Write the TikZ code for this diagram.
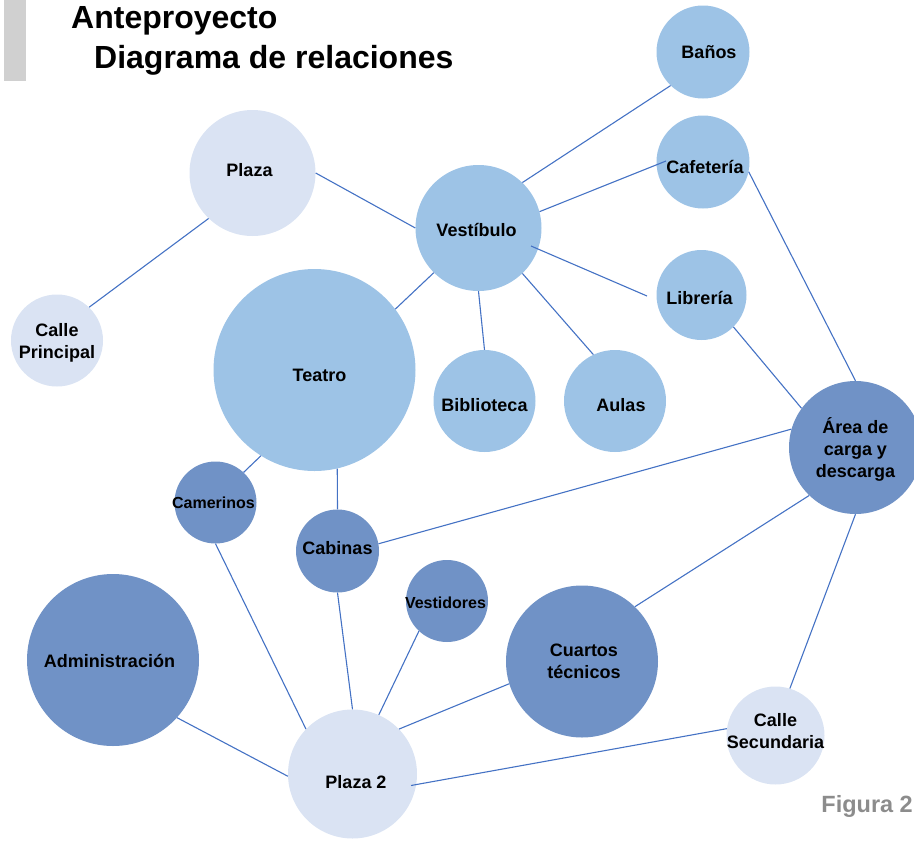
\documentclass[tikz,border=0pt]{standalone}
\usepackage{fontspec}
\setmainfont{Liberation Sans}
\usetikzlibrary{calc}
\definecolor{lightb}{HTML}{DAE3F3}
\definecolor{midb}{HTML}{9DC3E6}
\definecolor{darkb}{HTML}{7092C6}
\definecolor{edgeb}{HTML}{4472C4}
\definecolor{barg}{HTML}{D0D0D0}
\definecolor{figg}{HTML}{8C8C8C}
\tikzset{
  bub/.style={circle, inner sep=0pt},
  lbl/.style={align=center, inner sep=0pt, font=\fontsize{18}{22}\selectfont\bfseries},
  lbls/.style={lbl, font=\fontsize{16}{19}\selectfont\bfseries},
  lb/.style={fill=lightb},
  mb/.style={fill=midb},
  db/.style={fill=darkb},
  conn/.style={draw=edgeb, line width=1.1pt},
  ttl/.style={anchor=base west, inner sep=0pt, font=\fontsize{32}{36}\selectfont\bfseries}
}
\begin{document}
\begin{tikzpicture}[x=1pt,y=-1pt]
\useasboundingbox (0,0) rectangle (914,844);
\clip (0,0) rectangle (914,844);
\fill[barg] (4,0) rectangle (26,81);
\node[ttl] (t1) at (71,28) {Anteproyecto};
\node[ttl] (t2) at (94,68) {Diagrama de relaciones};
\node[anchor=base east, inner sep=0pt, text=figg, font=\fontsize{23.5}{26}\selectfont\bfseries] (fig) at (913,812) {Figura 2};

\node[bub, mb, minimum size=93pt, label={[lbl, xshift=6pt]center:Baños}] (banos) at (703,52) {};
\node[bub, lb, minimum size=126pt, label={[lbl, xshift=-3pt, yshift=3pt]center:Plaza}] (plaza) at (252.5,173) {};
\node[bub, mb, minimum size=93pt, label={[lbl, xshift=2pt, yshift=-4.5pt]center:Cafetería}] (caf) at (703,162) {};
\node[bub, mb, minimum size=126pt, label={[lbl, xshift=-2pt, yshift=-2pt]center:Vestíbulo}] (vest) at (478.5,228) {};
\node[bub, mb, minimum size=90pt, label={[lbl, xshift=-2pt, yshift=-3pt]center:Librería}] (lib) at (701.5,295) {};
\node[bub, lb, minimum size=92pt, label={[lbl, yshift=-2.5pt]center:{Calle\\Principal}}] (cp) at (57,340.5) {};
\node[bub, mb, minimum size=202pt, label={[lbl, xshift=5pt, yshift=-5pt]center:Teatro}] (teatro) at (314.5,370) {};
\node[bub, mb, minimum size=102pt, label={[lbl, yshift=-4.5pt]center:Biblioteca}] (bib) at (484.5,401) {};
\node[bub, mb, minimum size=102pt, label={[lbl, xshift=6pt, yshift=-4.5pt]center:Aulas}] (aulas) at (615,401) {};
\node[bub, db, minimum size=133pt, label={[lbl, yshift=-1.5pt]center:{Área de\\carga y\\descarga}}] (area) at (855.5,447.5) {};
\node[bub, db, minimum size=82pt, label={[lbls, xshift=-2pt]center:Camerinos}] (cam) at (215.5,502.5) {};
\node[bub, db, minimum size=83pt, label={[lbl, yshift=3pt]center:Cabinas}] (cab) at (337.5,551) {};
\node[bub, db, minimum size=82pt, label={[lbls, xshift=-1.5pt, yshift=-2pt]center:Vestidores}] (vestd) at (447,601) {};
\node[bub, db, minimum size=172pt, label={[lbl, xshift=-3.5pt, yshift=-1pt]center:Administración}] (admin) at (113,660) {};
\node[bub, db, minimum size=152pt, label={[lbl, xshift=2pt]center:{Cuartos\\técnicos}}] (cuartos) at (582,661.5) {};
\node[bub, lb, minimum size=98pt, label={[lbl, yshift=4pt]center:{Calle\\Secundaria}}] (cs) at (775.5,735.5) {};
\node[bub, lb, minimum size=129pt, label={[lbl, xshift=3.5pt, yshift=-8pt]center:Plaza 2}] (plaza2) at (352.5,774) {};

\draw[conn] (plaza.east) -- (vest.west);
\draw[conn] (plaza.226) -- (cp.46);
\draw[conn] (vest.46) -- (banos.226);
\draw[conn] (vest.15) -- ($(caf)+(-37,-1)$);
\draw[conn] ($(vest)+(52.5,18)$) -- ($(lib)+(-54.5,1)$);
\draw[conn] (vest.225) -- (teatro.37);
\draw[conn] (vest.south) -- (bib.north);
\draw[conn] (vest.314) -- (aulas.115);
\draw[conn] (caf.348) -- (area.north);
\draw[conn] (lib.315) -- (area.144);
\draw[conn] (area.164) -- (cab.10);
\draw[conn] (area.226) -- (cuartos.46);
\draw[conn] (area.south) -- (cs.73);
\draw[conn] (teatro.238) -- (cam.47);
\draw[conn] (teatro.283) -- (cab.north);
\draw[conn] (cam.south) -- (plaza2.136);
\draw[conn] (cab.south) -- (plaza2.north);
\draw[conn] (vestd.227) -- (plaza2.66);
\draw[conn] (cuartos.197) -- (plaza2.44);
\draw[conn] (admin.318) -- (plaza2.182);
\draw[conn] (cs.172) -- ($(plaza2)+(58.5,11.5)$);
\end{tikzpicture}
\end{document}
